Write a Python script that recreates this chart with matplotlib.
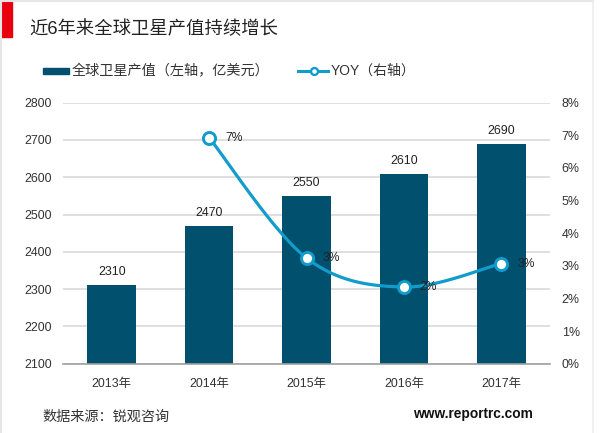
import matplotlib
matplotlib.use('Agg')
import matplotlib.pyplot as plt
from matplotlib.lines import Line2D
from matplotlib.patches import Rectangle
import numpy as np

plt.rcParams['font.family'] = ['Liberation Sans', 'Noto Sans CJK SC', 'DejaVu Sans']

years = ['2013年', '2014年', '2015年', '2016年', '2017年']
output_value = [2310, 2470, 2550, 2610, 2690]
yoy_years = [1, 2, 3, 4]
yoy = [6.93, 3.24, 2.35, 3.07]
yoy_labels = ['7%', '3%', '2%', '3%']
left_ticks = [2100, 2200, 2300, 2400, 2500, 2600, 2700, 2800]
right_ticks = [0, 1, 2, 3, 4, 5, 6, 7, 8]

BAR = '#00506E'
LINE = '#119CCB'
GRID = '#D9D9D9'
TEXT = '#333333'

W, H = 600, 433


def smooth(xs, ys, n=40):
    # excel style smoothed line, bezier through the points
    xs = np.array(xs, dtype=float)
    ys = np.array(ys, dtype=float)
    out_x, out_y = [], []
    for i in range(len(xs) - 1):
        x0, y0 = xs[i], ys[i]
        x3, y3 = xs[i + 1], ys[i + 1]
        a = max(i - 1, 0)
        b = min(i + 2, len(xs) - 1)
        x1 = x0 + (x3 - xs[a]) / 6
        y1 = y0 + (y3 - ys[a]) / 6
        x2 = x3 - (xs[b] - x0) / 6
        y2 = y3 - (ys[b] - y0) / 6
        t = np.linspace(0, 1, n)
        out_x.extend((1-t)**3*x0 + 3*(1-t)**2*t*x1 + 3*(1-t)*t**2*x2 + t**3*x3)
        out_y.extend((1-t)**3*y0 + 3*(1-t)**2*t*y1 + 3*(1-t)*t**2*y2 + t**3*y3)
    return out_x, out_y


fig = plt.figure(figsize=(W / 100, H / 100), dpi=100, facecolor='white')
ax = fig.add_axes([63 / W, 1 - 363.7 / H, (550 - 63) / W, (363.7 - 102.7) / H])

# page frame and the red title block
fig.add_artist(Line2D([0, 593 / W], [1 - 1 / H, 1 - 1 / H], color='#E6E6E6', lw=1.5))
fig.add_artist(Line2D([1 / W, 1 / W], [0, 1], color='#E6E6E6', lw=1.5))
fig.add_artist(Line2D([593 / W, 593 / W], [0, 1], color='#EDEDED', lw=1.2))
fig.add_artist(Rectangle((1 / W, 1 - 37 / H), 11 / W, 37 / H, color='#E8000F',
                         transform=fig.transFigure))

ax.bar(range(5), output_value, width=0.5, color=BAR, zorder=2)
ax.set_xlim(-0.5, 4.5)
ax.set_ylim(2100, 2800)
ax.set_yticks(left_ticks)
ax.set_xticks(range(5))
ax.set_xticklabels(years)
ax.tick_params(axis='both', length=0, labelsize=8.9, labelcolor=TEXT)
ax.tick_params(axis='x', pad=10)
ax.tick_params(axis='y', pad=8)
ax.grid(axis='y', color=GRID, lw=1.2, zorder=0)
ax.set_axisbelow(True)
for side in ['top', 'left', 'right']:
    ax.spines[side].set_visible(False)
ax.spines['bottom'].set_color('#A0A0A0')
ax.spines['bottom'].set_linewidth(1.2)
ax.spines['bottom'].set_zorder(3)

for i, v in enumerate(output_value):
    ax.annotate(str(v), (i, v), xytext=(0, 5), textcoords='offset points',
                ha='center', va='bottom', fontsize=8.9, color='#222222')

ax2 = ax.twinx()
ax2.set_ylim(0, 8)
ax2.set_yticks(right_ticks)
ax2.set_yticklabels([f'{t}%' for t in right_ticks])
ax2.tick_params(axis='y', length=0, labelsize=8.9, labelcolor=TEXT, pad=8.4)
for side in ax2.spines:
    ax2.spines[side].set_visible(False)

sx, sy = smooth(yoy_years, yoy)
ax2.plot(sx, sy, color=LINE, lw=2.3, zorder=4, solid_capstyle='round')
ax2.plot(yoy_years, yoy, ls='none', marker='o', ms=8.7, mfc='white', mec=LINE,
         mew=2.1, zorder=5)
for x, y, lab in zip(yoy_years, yoy, yoy_labels):
    ax2.annotate(lab, (x, y), xytext=(11.5, 0), textcoords='offset points',
                 ha='left', va='center', fontsize=8.7, color='#222222', zorder=6)

fig.text(29 / W, 1 - 29 / H, '近6年来全球卫星产值持续增长', fontsize=13.2, color='#222222',
         ha='left', va='center')

# legend, placed by hand
fig.add_artist(Rectangle((43 / W, 1 - 73.5 / H), 26 / W, 5.5 / H, color=BAR,
                         transform=fig.transFigure))
fig.text(72 / W, 1 - 71 / H, '全球卫星产值（左轴，亿美元）', fontsize=10.2, color=TEXT,
         ha='left', va='center')
fig.add_artist(Line2D([298 / W, 328 / W], [1 - 71 / H, 1 - 71 / H], color=LINE, lw=2.2))
fig.add_artist(Line2D([314 / W], [1 - 71 / H], color=LINE, ls='none', marker='o', ms=5,
                      mfc='white', mew=1.7))
fig.text(331 / W, 1 - 71 / H, 'YOY（右轴）', fontsize=10, color=TEXT, ha='left', va='center')

fig.text(42.7 / W, 1 - 416.5 / H, '数据来源：锐观咨询', fontsize=10.2, color=TEXT,
         ha='left', va='center')
fig.text(532.7 / W, 1 - 414 / H, 'www.reportrc.com', fontsize=9.95, fontweight='bold',
         color='#111111', ha='right', va='center')

fig.savefig('out.png', dpi=100)
